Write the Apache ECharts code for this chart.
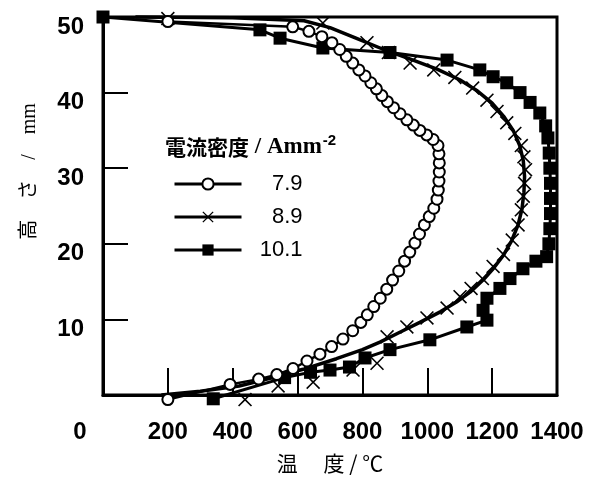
<!DOCTYPE html>
<html>
<head>
<meta charset="utf-8">
<script src="https://cdn.jsdelivr.net/npm/echarts/dist/echarts.min.js"></script>
<style>
html, body { margin: 0; padding: 0; background: #fff; }
#chart { width: 602px; height: 477px; }
</style>
</head>
<body>
<div id="chart"></div>
<script>
// 電流密度ごとの測定点 [温度 ℃, 高さ mm]
const seriesNames = ['7.9', '8.9', '10.1'];

const circlePoints = [
    [200, -0.6], [392, 1.4], [480, 2.1], [536, 2.7], [586, 3.5], [629, 4.5], [669, 5.4],
    [705, 6.4], [740, 7.4], [770, 8.5], [795, 9.6], [815, 10.6], [835, 11.7], [855, 12.8],
    [875, 14.0], [893, 15.2], [912, 16.4], [930, 17.7], [946, 18.9], [962, 20.1], [976, 21.3],
    [991, 22.5], [1006, 23.6], [1020, 24.7], [1030, 25.9], [1034, 27.1], [1036, 28.3],
    [1037, 29.5], [1037, 30.7], [1036, 31.9], [1033, 33.0], [1018, 33.8], [998, 34.4],
    [977, 35.0], [957, 35.7], [937, 36.4], [916, 37.2], [896, 38.0], [877, 38.8], [860, 39.6],
    [843, 40.5], [826, 41.3], [808, 42.2], [789, 43.0], [770, 43.9], [750, 44.8], [730, 45.7],
    [706, 46.6], [675, 47.4], [635, 48.1], [585, 48.7], [200, 49.4]
];

const crossPoints = [
    [438, -0.6], [540, 1.2], [648, 1.7], [771, 3.3], [845, 4.2], [876, 7.7], [937, 9.0],
    [999, 10.2], [1061, 11.5], [1101, 13.0], [1135, 14.1], [1170, 15.4], [1203, 17.0],
    [1235, 18.6], [1262, 20.5], [1280, 22.5], [1290, 24.5], [1296, 26.3], [1300, 28.0],
    [1303, 29.8], [1298, 31.5], [1290, 33.0], [1270, 34.6], [1245, 36.0], [1215, 37.5],
    [1184, 39.0], [1140, 40.6], [1085, 42.0], [1020, 43.0], [947, 43.9], [880, 45.3],
    [814, 46.6], [678, 49.2], [200, 49.8]
];

// 8.9 の実線（測定点とは別に引かれた曲線）
const crossCurve = [
    [180, 0], [300, 0.5], [420, 1.2], [515, 2.2], [617, 3.4], [720, 4.8], [800, 6.0],
    [854, 7.0], [920, 8.4], [977, 9.6], [1040, 11.0], [1090, 12.3], [1132, 13.6],
    [1172, 15.2], [1205, 16.8], [1235, 18.5], [1260, 20.4], [1280, 22.5], [1292, 24.6],
    [1298, 26.8], [1300, 28.9], [1296, 31.0], [1285, 33.0], [1265, 35.0], [1235, 36.9],
    [1200, 38.6], [1155, 40.2], [1100, 41.7], [1030, 43.1], [950, 44.4], [860, 45.8],
    [780, 47.2], [700, 48.6], [620, 49.5], [400, 49.9], [100, 50]
];

const squarePoints = [
    [340, -0.5], [560, 2.3], [640, 3.0], [700, 3.3], [760, 3.7], [808, 4.9], [885, 6.0],
    [1008, 7.3], [1122, 9.0], [1184, 9.9], [1172, 11.2], [1184, 12.8], [1224, 14.1],
    [1255, 15.4], [1295, 16.7], [1335, 17.7], [1368, 18.3], [1375, 20.0], [1378, 22.0],
    [1380, 24.0], [1380, 26.0], [1380, 28.0], [1378, 30.0], [1376, 32.0], [1372, 34.0],
    [1365, 35.6], [1347, 37.3], [1317, 38.7], [1286, 40.0], [1245, 41.3], [1203, 42.1],
    [1162, 43.0], [1061, 44.3], [885, 45.3], [678, 45.9], [546, 47.2], [484, 48.3], [0, 50]
];

const crossSymbol = 'path://M0,0.8L0.8,0L5,4.2L9.2,0L10,0.8L5.8,5L10,9.2L9.2,10L5,5.8L0.8,10L0,9.2L4.2,5Z';

const numFont = '"Liberation Sans", Arial, sans-serif';
const jpFont = '"Noto Sans CJK JP", sans-serif';
const serifFont = '"Liberation Serif", "Noto Sans CJK JP", serif';

const chart = echarts.init(document.getElementById('chart'));

const option = {
    backgroundColor: '#fff',
    animation: false,
    title: {
        left: 160,
        top: 128,
        text: '{c|電流密度}{s| / Amm}{u|-2}',
        textStyle: {
            rich: {
                c: { fontFamily: jpFont, fontSize: 21, fontWeight: 'bold', color: '#000' },
                s: { fontFamily: serifFont, fontSize: 23, color: '#000' },
                u: { fontFamily: numFont, fontSize: 15, color: '#000', padding: [0, 0, 14, 1] }
            }
        }
    },
    legend: {
        left: 168,
        top: 168,
        orient: 'vertical',
        data: seriesNames,
        itemWidth: 67,
        itemHeight: 14,
        itemGap: 11,
        formatter: '{a|{name}}',
        lineStyle: { color: '#000', width: 3, opacity: 1 },
        textStyle: {
            rich: {
                a: { width: 56, align: 'right', fontFamily: numFont, fontSize: 22, color: '#000' }
            }
        }
    },
    grid: {
        left: 103,
        right: 45,
        top: 17,
        bottom: 82,
        show: true,
        borderColor: '#000',
        borderWidth: 3,
        outerBoundsMode: 'none'
    },
    xAxis: {
        type: 'value',
        min: 0,
        max: 1400,
        interval: 200,
        name: '温　 度 / ℃',
        nameLocation: 'middle',
        nameGap: 58,
        nameTextStyle: { fontFamily: jpFont, fontSize: 21, color: '#000' },
        axisLine: { show: true, lineStyle: { color: '#000', width: 3 } },
        axisTick: { show: true, inside: true, length: 27, lineStyle: { color: '#000', width: 2 } },
        splitLine: { show: false },
        axisLabel: {
            margin: 25,
            color: '#000',
            fontFamily: numFont,
            fontSize: 24,
            fontWeight: 'bold',
            hideOverlap: false,
            formatter: function (v) {
                return v === 0 ? '{z|0}' : String(v);
            },
            rich: {
                z: { fontFamily: numFont, fontSize: 24, fontWeight: 'bold', color: '#000', padding: [0, 46, 0, 0] }
            }
        }
    },
    yAxis: {
        type: 'value',
        min: 0,
        max: 50,
        interval: 10,
        name: '高　さ　/　mm',
        nameLocation: 'middle',
        nameGap: 63,
        nameRotate: 90,
        nameTextStyle: { fontFamily: serifFont, fontSize: 20, color: '#000', padding: [0, 0, 0, 69] },
        axisLine: { show: true, lineStyle: { color: '#000', width: 3 } },
        axisTick: { show: true, inside: true, length: 25, lineStyle: { color: '#000', width: 2 } },
        splitLine: { show: false },
        axisLabel: {
            margin: 19,
            color: '#000',
            formatter: function (v) {
                return v === 0 ? '' : '{v|' + v + '}';
            },
            rich: {
                v: { fontFamily: numFont, fontSize: 24, fontWeight: 'bold', color: '#000', padding: [20, 0, 0, 0] }
            }
        }
    },
    series: [
        {
            name: '10.1',
            type: 'line',
            data: squarePoints,
            symbol: 'rect',
            symbolSize: 13,
            clip: false,
            itemStyle: { color: '#000' },
            lineStyle: { color: '#000', width: 3 },
            z: 2
        },
        {
            name: '8.9-curve',
            type: 'line',
            data: crossCurve,
            symbol: 'none',
            clip: false,
            lineStyle: { color: '#000', width: 3.5 },
            z: 3
        },
        {
            name: '8.9',
            type: 'line',
            data: crossPoints,
            symbol: crossSymbol,
            symbolSize: 14,
            clip: false,
            itemStyle: { color: '#000' },
            lineStyle: { color: '#000', width: 0, opacity: 0 },
            z: 4
        },
        {
            name: '7.9',
            type: 'line',
            data: circlePoints,
            symbol: 'circle',
            symbolSize: 11,
            clip: false,
            itemStyle: { color: '#fff', borderColor: '#000', borderWidth: 2 },
            lineStyle: { color: '#000', width: 2.5 },
            z: 5
        }
    ]
};

chart.setOption(option);
</script>
</body>
</html>
